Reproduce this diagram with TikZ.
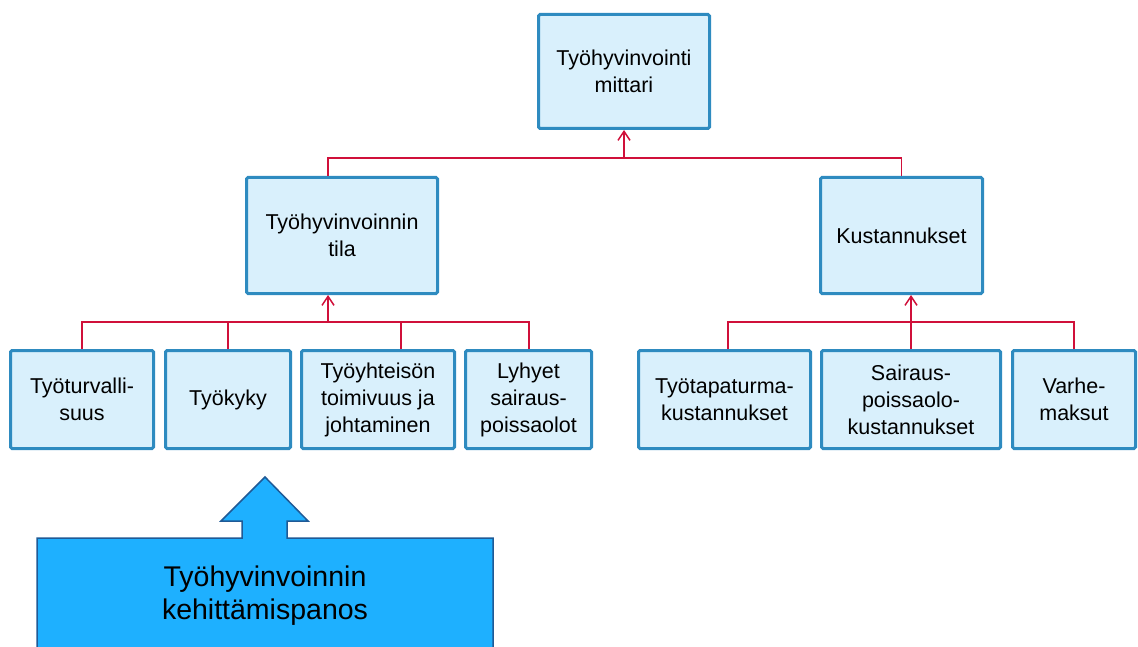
\documentclass[tikz,border=0pt]{standalone}
\usepackage{fontspec}
\setmainfont{Liberation Sans}
\usetikzlibrary{arrows.meta}
\definecolor{boxfill}{HTML}{D9F0FC}
\definecolor{boxline}{HTML}{2E8BC0}
\definecolor{linkred}{HTML}{D0103A}
\definecolor{bigfill}{HTML}{1EB0FF}
\definecolor{bigline}{HTML}{1F5A96}
\begin{document}
\begin{tikzpicture}[x=1pt,y=-1pt,
  box/.style={draw=boxline,fill=boxfill,line width=3pt,rounded corners=1.5pt,
    align=center,inner sep=2pt,
    font=\fontsize{21.5}{27}\selectfont},
  link/.style={draw=linkred,line width=1.5pt},
  uparrow/.style={link,-{Straight Barb[length=9pt,width=12pt,line width=1.5pt]}}
]
\useasboundingbox (0,0) rectangle (1138,647);

% top level
\node[box,minimum width=171pt,minimum height=114pt] (top) at (624,71.5) {Työhyvinvointi\\mittari};

% second level
\node[box,minimum width=191pt,minimum height=116pt] (tila) at (342,235.5) {Työhyvinvoinnin\\tila};
\node[box,minimum width=162pt,minimum height=116pt] (kust) at (901.5,235.5) {Kustannukset};

% third level
\node[box,minimum width=143pt,minimum height=98pt] (b1) at (82,399.5) {Työturvalli-\\suus};
\node[box,minimum width=125pt,minimum height=98pt] (b2) at (228,399.5) {Työkyky};
\node[box,minimum width=153pt,minimum height=98pt] (b3) at (378,399.5) {Työyhteisön\\toimivuus ja\\johtaminen};
\node[box,minimum width=126pt,minimum height=98pt] (b4) at (528.5,399.5) {Lyhyet\\sairaus-\\poissaolot};
\node[box,minimum width=172pt,minimum height=98pt] (b5) at (724.5,399.5) {Työtapaturma-\\kustannukset};
\node[box,minimum width=179pt,minimum height=98pt] (b6) at (911,399.5) {Sairaus-\\poissaolo-\\kustannukset};
\node[box,minimum width=123pt,minimum height=98pt] (b7) at (1074,399.5) {Varhe-\\maksut};

% junction points of the connector bars
\coordinate (jT) at (624,158);
\coordinate (jL) at (328,322);
\coordinate (jR) at (911,322);

% connectors: top level
\draw[link] ([xshift=-14pt]tila.north) |- (jT) -| (kust.north);
\draw[uparrow] (jT) -- (top.south);

% connectors: left group
\draw[link] (b1.north) |- (jL) -| ([xshift=0.5pt]b4.north);
\draw[link] (b2.north) -- (b2.north |- jL);
\draw[link] ([xshift=23pt]b3.north) -- ([xshift=23pt]b3.north |- jL);
\draw[uparrow] (jL) -- (jL |- tila.south);

% connectors: right group
\draw[link] ([xshift=3.5pt]b5.north) |- (jR) -| (b7.north);
\draw[link] (b6.north) -- (jR);
\draw[uparrow] (jR) -- (jR |- kust.south);

% large block arrow at the bottom
\draw[draw=bigline,fill=bigfill,line width=1.5pt]
  (37,538) -- (242,538) -- (242,521) -- (221,521) -- (265,477) -- (308,521)
  -- (287,521) -- (287,538) -- (493,538) -- (493,670) -- (37,670) -- cycle;
\node[align=center,font=\fontsize{28.5}{33}\selectfont] (panos) at (265,596)
  {Työhyvinvoinnin\\kehittämispanos};
\end{tikzpicture}
\end{document}
